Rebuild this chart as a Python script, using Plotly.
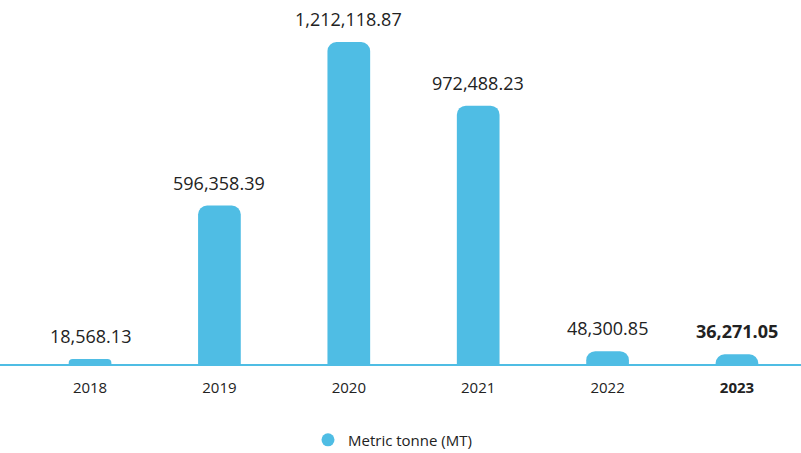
import plotly.graph_objects as go

years = ["2018", "2019", "2020", "2021", "2022", "2023"]
values = [18568.13, 596358.39, 1212118.87, 972488.23, 48300.85, 36271.05]
value_labels = ["18,568.13", "596,358.39", "1,212,118.87", "972,488.23", "48,300.85", "<b>36,271.05</b>"]
tick_labels = ["2018", "2019", "2020", "2021", "2022", "<b>2023</b>"]
series_name = "Metric tonne (MT)"

BLUE = "#4FBDE4"
FONT = "Open Sans"

fig = go.Figure()
fig.add_trace(go.Bar(
    x=years, y=values, marker=dict(color=BLUE, line=dict(width=0)),
    width=0.33, showlegend=False, hoverinfo="skip",
))
fig.add_trace(go.Scatter(
    x=[None], y=[None], mode="markers", name=series_name,
    marker=dict(symbol="circle", size=13, color=BLUE),
))

for i, (v, lab) in enumerate(zip(values, value_labels)):
    fig.add_annotation(
        x=i, y=v, xref="x", yref="y", text=lab, showarrow=False,
        yanchor="bottom", yshift=9,
        font=dict(family=FONT, size=18, color="#222222"),
    )

fig.update_layout(
    width=801, height=453,
    margin=dict(l=0, r=0, t=10, b=89, autoexpand=False),
    plot_bgcolor="white", paper_bgcolor="white",
    barcornerradius=9,
    font=dict(family=FONT, color="#222222"),
    xaxis=dict(
        type="category", range=[-0.696, 5.495], automargin=False,
        tickmode="array", tickvals=years, ticktext=tick_labels,
        tickfont=dict(family=FONT, size=15, color="#222222"),
        showline=True, linecolor=BLUE, linewidth=2,
        showgrid=False, zeroline=False, ticks="", ticklabelstandoff=9,
    ),
    yaxis=dict(range=[0, 1332600], visible=False, showgrid=False, zeroline=False,
               automargin=False),
    legend=dict(
        orientation="h", x=0.49, xanchor="center", y=-0.215, yanchor="middle",
        font=dict(family=FONT, size=15, color="#222222"),
        itemwidth=30,
    ),
)

fig.write_html(
    "out.html",
    config={"displayModeBar": False},
    post_script="document.body.style.margin='0';document.body.style.overflow='hidden';",
)
